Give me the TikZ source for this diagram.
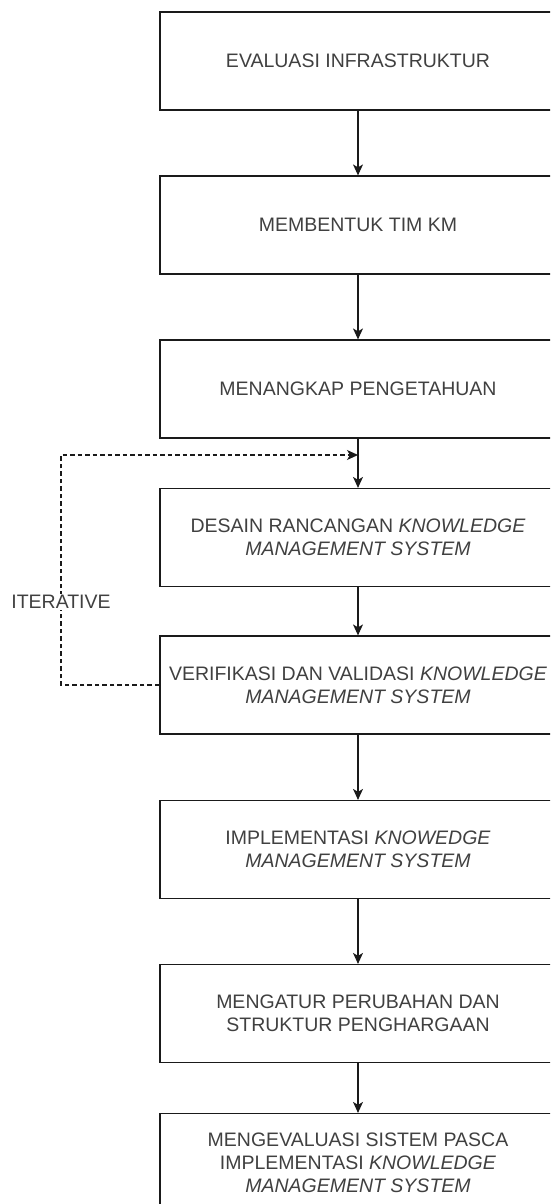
\documentclass[tikz,border=0pt]{standalone}
\usepackage{fontspec}
\setmainfont{Liberation Sans}
\usetikzlibrary{arrows.meta}
\definecolor{txtgray}{HTML}{404040}
\definecolor{linegray}{HTML}{1A1A1A}
\tikzset{
  stepbox/.style={draw=linegray, line width=1.2pt, fill=white, minimum width=396pt, minimum height=98pt,
    inner sep=0pt, align=center, text=txtgray, font=\fontsize{19.5}{23}\selectfont},
  flow/.style={draw=linegray, line width=1.1pt, -{Stealth[length=11pt,width=10pt,inset=3pt]}},
  loopline/.style={draw=linegray, line width=1.1pt, dash pattern=on 4.5pt off 3pt, -{Stealth[length=11pt,width=10pt,inset=3pt]}},
  lbl/.style={fill=white, inner sep=1pt, text=txtgray, font=\fontsize{19.5}{23}\selectfont}
}
\begin{document}
\begin{tikzpicture}[x=1pt,y=1pt]
\useasboundingbox (0,0) rectangle (550,-1204);
\clip (0,0) rectangle (550,-1204);
\node[stepbox] (b1) at (358,-61) {EVALUASI INFRASTRUKTUR};
\node[stepbox] (b2) at (358,-225) {MEMBENTUK TIM KM};
\node[stepbox] (b3) at (358,-389) {MENANGKAP PENGETAHUAN};
\node[stepbox] (b4) at (358,-537.5) {DESAIN RANCANGAN \textit{KNOWLEDGE}\\\textit{MANAGEMENT SYSTEM}};
\node[stepbox] (b5) at (358,-685) {VERIFIKASI DAN VALIDASI \textit{KNOWLEDGE}\\\textit{MANAGEMENT SYSTEM}};
\node[stepbox] (b6) at (358,-849.5) {IMPLEMENTASI \textit{KNOWEDGE}\\\textit{MANAGEMENT SYSTEM}};
\node[stepbox] (b7) at (358,-1013.5) {MENGATUR PERUBAHAN DAN\\STRUKTUR PENGHARGAAN};
\node[stepbox] (b8) at (358,-1162.5) {MENGEVALUASI SISTEM PASCA\\IMPLEMENTASI \textit{KNOWLEDGE}\\\textit{MANAGEMENT SYSTEM}};
\draw[flow] (b1) -- (b2);
\draw[flow] (b2) -- (b3);
\draw[flow] (b3) -- (b4);
\draw[flow] (b4) -- (b5);
\draw[flow] (b5) -- (b6);
\draw[flow] (b6) -- (b7);
\draw[flow] (b7) -- (b8);
\coordinate (lc) at (61,-455);
\coordinate (tg) at (358,-455);
\draw[loopline] (b5.west) -| (lc) -- (tg);
\node[lbl] (it) at (61,-602) {ITERATIVE};
\end{tikzpicture}
\end{document}
